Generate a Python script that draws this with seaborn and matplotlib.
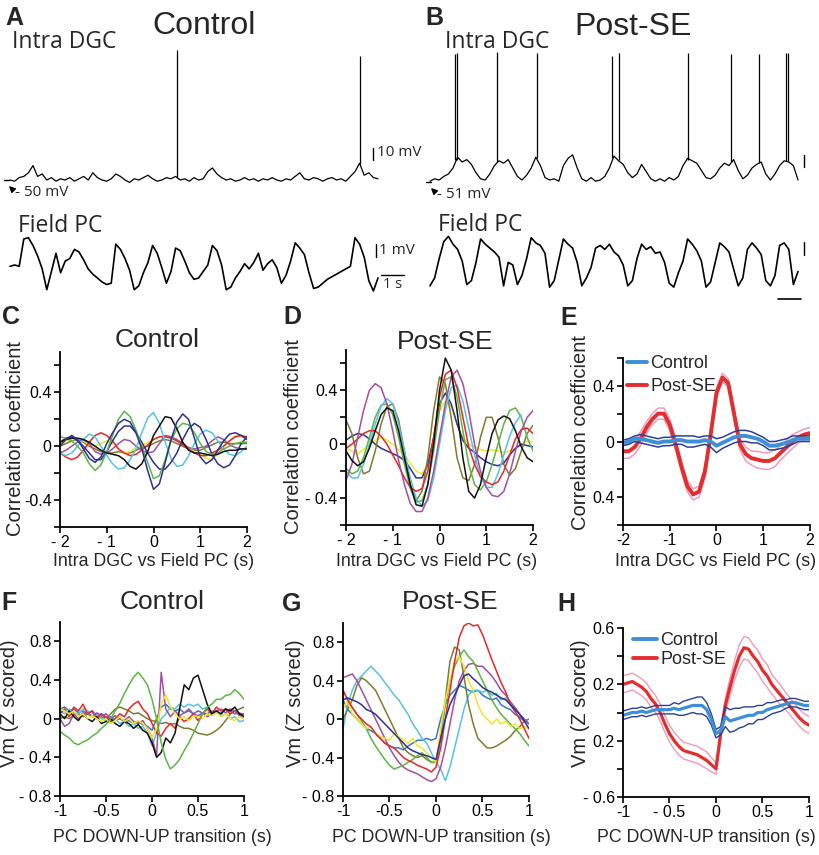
import numpy as np
import matplotlib
matplotlib.use('Agg')
import matplotlib.pyplot as plt
from matplotlib.lines import Line2D
import seaborn as sns

sns.set_style('ticks')
plt.rcParams['font.family'] = ['Liberation Sans', 'DejaVu Sans']

# ---------------- data ----------------
# raw traces (A, B), sampled every 0.2 s, 0-16 s
t_trace = np.linspace(0, 16, 81)
a_intra = [-50, -51, -48, -47, -44, -38, -47, -45, -50, -48,
           -51, -49, -50, -48, -51, -49, -47, -50, -44, -48,
           -50, -51, -49, -45, -47, -50, -52, -49, -50, -48,
           -46, -49, -51, -50, -48, -49, -47, -50, -49, -51,
           -48, -50, -49, -43, -40, -45, -48, -50, -49, -51,
           -50, -48, -50, -49, -51, -49, -50, -48, -50, -51,
           -49, -50, -47, -44, -49, -50, -48, -49, -51, -49,
           -48, -50, -49, -51, -47, -43, -36, -46, -44, -48,
           -49]
a_field = [-0.1, 0.0, -0.1, 2.0, 2.1, 1.5, 0.7, -0.3, -1.9, -0.5,
           0.9, -0.6, 0.3, 0.5, 1.2, 1.0, 0.4, -0.3, -0.7, -1.0,
           -1.3, -1.5, -1.4, 1.6, 1.2, 0.5, -0.4, -1.9, -1.6, -0.6,
           0.2, 1.5, 0.9, -0.2, -1.4, -0.5, 1.3, 1.1, 0.3, -0.6,
           -1.1, -1.0, -0.5, 0.0, 1.5, 1.1, 0.0, -1.9, -1.7, -1.0,
           -0.5, 0.1, -0.3, 0.2, 0.9, -0.4, 0.1, 0.4, -0.2, -1.4,
           -0.8, 0.3, 1.7, 1.3, 0.8, -0.6, -1.8, -1.7, -1.4, -1.1,
           -0.9, -0.7, -0.5, -0.3, -0.1, 2.1, 1.6, 0.6, -1.2, -2.0,
           -1.0]
a_spike_t = [7.26, 15.22]
a_spike_base = [-48, -37]
a_spike_peak = [58, 53]

b_intra = [-51, -49, -50, -47, -45, -40, -31, -35, -33, -37,
           -44, -49, -50, -45, -38, -34, -36, -33, -40, -47,
           -50, -46, -40, -31, -38, -48, -50, -49, -51, -38,
           -32, -29, -40, -49, -51, -48, -51, -50, -47, -40,
           -30, -34, -37, -44, -48, -45, -37, -43, -49, -51,
           -49, -51, -48, -50, -47, -38, -32, -34, -36, -42,
           -48, -49, -46, -40, -36, -38, -33, -42, -49, -46,
           -40, -37, -35, -45, -50, -45, -38, -34, -35, -38,
           -50]
b_field = [-1.6, -1.0, 0.5, 1.8, 2.2, 1.6, 1.2, 0.3, -1.5, -1.2,
           0.2, 2.0, 1.6, 1.3, 1.0, 0.6, -1.6, 0.2, 0.0, -1.5,
           -0.8, 0.5, 2.1, 1.7, 1.5, 0.9, -1.7, -1.2, 0.4, 2.0,
           1.6, 1.3, 0.2, -1.6, -1.0, -0.2, 1.3, 1.5, 1.2, 1.6,
           1.0, 0.7, 0.0, -1.6, -1.2, 0.5, 1.6, 1.2, 1.4, 0.9,
           1.0, 0.2, -1.4, -1.7, -0.6, 0.3, 2.0, 1.6, 1.1, 0.3,
           -1.7, -1.3, 0.2, 1.7, 1.4, 1.0, -0.3, -1.6, -1.0, 1.2,
           1.7, 1.3, 0.8, -1.2, -1.6, -0.8, 1.5, 1.7, 1.2, -1.5,
           -0.5]
b_spike_t = [1.10, 1.17, 2.91, 4.65, 7.91, 8.22, 11.20, 13.10, 14.30, 15.48, 15.55]
b_spike_base = [-33, -33, -35, -32, -32, -33, -33, -35, -36, -34, -34]
b_spike_peak = [55, 56, 57, 56, 53, 56, 56, 55, 55, 56, 56]

# cross-correlations (C, D, E), lag -2..2 s every 0.125 s
lag = np.linspace(-2, 2, 33)
c_black = [0.03, 0.05, 0.06, 0.06, 0.05, 0.03, 0.0, -0.03, -0.05, -0.06, -0.07, -0.1, -0.15, -0.17, -0.13, -0.04,
           0.08, 0.15, 0.22, 0.21, 0.13, 0.03, -0.03, -0.05, -0.05, -0.06, -0.07, -0.06, -0.04, -0.03, -0.03, -0.02, -0.02]
c_green = [0.07, 0.06, 0.04, 0.0, -0.05, -0.13, -0.18, -0.14, -0.04, 0.08, 0.2, 0.26, 0.22, 0.12, 0.0, -0.12,
           -0.24, -0.22, -0.1, 0.04, 0.13, 0.17, 0.16, 0.1, 0.02, -0.04, -0.06, -0.05, -0.02, 0.0, 0.02, 0.03, 0.03]
c_navy1 = [0.0, 0.05, 0.08, 0.05, -0.02, -0.09, -0.12, -0.08, 0.02, 0.1, 0.17, 0.2, 0.18, 0.1, -0.02, -0.18,
           -0.32, -0.28, -0.12, 0.05, 0.18, 0.24, 0.2, 0.06, -0.08, -0.13, -0.1, -0.03, 0.04, 0.09, 0.1, 0.08, 0.05]
c_navy2 = [0.03, 0.06, 0.07, 0.04, 0.0, -0.05, -0.1, -0.1, -0.04, 0.04, 0.11, 0.15, 0.15, 0.1, 0.03, -0.05,
           -0.12, -0.17, -0.17, -0.12, -0.05, 0.05, 0.13, 0.17, 0.14, 0.05, -0.06, -0.13, -0.16, -0.14, -0.07, 0.02, 0.07]
c_cyan = [-0.05, -0.07, -0.05, 0.0, 0.05, 0.09, 0.07, 0.0, -0.07, -0.13, -0.17, -0.16, -0.1, -0.02, 0.1, 0.21,
          0.25, 0.17, 0.03, -0.09, -0.15, -0.14, -0.07, 0.02, 0.09, 0.12, 0.1, 0.04, -0.02, -0.06, -0.07, -0.04, 0.0]
c_red = [-0.05, -0.08, -0.1, -0.08, -0.03, 0.03, 0.08, 0.1, 0.08, 0.04, -0.02, -0.05, -0.07, -0.06, -0.03, 0.01,
         0.05, 0.07, 0.07, 0.06, 0.04, 0.01, -0.02, -0.05, -0.07, -0.07, -0.05, -0.03, 0.0, 0.04, 0.07, 0.08, 0.07]
c_yellow = [0.02, 0.04, 0.05, 0.05, 0.04, 0.01, 0.0, 0.02, 0.04, 0.02, -0.02, -0.05, -0.04, -0.01, 0.0, 0.03,
            0.05, 0.07, 0.08, 0.07, 0.05, 0.02, -0.01, -0.04, -0.06, -0.09, -0.1, -0.06, 0.0, 0.04, 0.08, 0.07, 0.05]
c_purple = [-0.05, -0.03, 0.0, 0.03, 0.05, 0.02, -0.04, -0.06, -0.05, -0.02, 0.02, 0.05, 0.04, 0.0, -0.03, -0.05,
            -0.04, 0.02, 0.08, 0.07, 0.05, 0.02, -0.01, -0.02, -0.01, 0.0, 0.04, 0.07, 0.05, 0.01, -0.01, -0.02, -0.02]
c_olive = [0.0, 0.02, 0.04, 0.05, 0.03, 0.0, -0.02, -0.04, -0.05, -0.05, -0.04, -0.05, -0.05, -0.03, -0.01, 0.0,
           0.02, 0.04, 0.05, 0.04, 0.02, 0.0, -0.02, -0.03, -0.03, -0.01, 0.01, 0.03, 0.03, 0.02, 0.02, 0.02, 0.02]

d_black = [-0.05, -0.12, -0.16, -0.13, -0.03, 0.1, 0.22, 0.27, 0.25, 0.1, -0.1, -0.3, -0.45, -0.46, -0.3, 0.0,
           0.4, 0.64, 0.55, 0.25, -0.1, -0.35, -0.4, -0.3, -0.1, 0.08, 0.18, 0.21, 0.19, 0.1, -0.02, -0.1, -0.13]
d_purple = [-0.27, -0.15, 0.05, 0.25, 0.4, 0.45, 0.42, 0.3, 0.1, -0.12, -0.3, -0.44, -0.5, -0.5, -0.4, -0.2,
            0.05, 0.3, 0.5, 0.55, 0.45, 0.25, 0.0, -0.2, -0.32, -0.38, -0.39, -0.35, -0.22, -0.05, 0.1, 0.2, 0.25]
d_cyan = [-0.2, -0.25, -0.25, -0.15, 0.0, 0.15, 0.28, 0.34, 0.3, 0.15, -0.05, -0.25, -0.4, -0.46, -0.42, -0.25,
          0.0, 0.25, 0.42, 0.44, 0.32, 0.12, -0.08, -0.24, -0.32, -0.32, -0.22, -0.08, 0.06, 0.16, 0.22, np.nan, np.nan]
d_green = [-0.18, -0.22, -0.2, -0.1, 0.05, 0.2, 0.29, 0.3, 0.22, 0.05, -0.15, -0.33, -0.43, -0.42, -0.3, -0.05,
           0.25, 0.48, 0.5, 0.35, 0.1, -0.15, -0.3, -0.34, -0.28, -0.15, 0.0, 0.15, 0.25, 0.27, 0.2, 0.05, -0.05]
d_olive = [0.18, 0.08, -0.1, -0.22, -0.2, -0.05, 0.15, 0.28, 0.3, 0.18, -0.05, -0.3, -0.42, -0.35, -0.1, 0.25,
           0.5, 0.45, 0.2, -0.1, -0.25, -0.27, -0.15, 0.05, 0.2, 0.2, 0.05, -0.15, -0.23, -0.18, -0.05, 0.08, 0.14]
d_red = [-0.03, 0.0, 0.04, 0.08, 0.1, 0.1, 0.06, 0.0, -0.08, -0.16, -0.25, -0.32, -0.35, -0.33, -0.2, 0.05,
         0.35, 0.52, 0.55, 0.42, 0.2, -0.02, -0.15, -0.24, -0.28, -0.3, -0.28, -0.2, -0.08, 0.04, 0.11, 0.12, 0.08]
d_navy = [0.03, 0.06, 0.08, 0.07, 0.04, 0.0, -0.03, -0.05, -0.07, -0.09, -0.12, -0.18, -0.25, -0.25, -0.15, 0.05,
          0.3, 0.38, 0.3, 0.15, 0.03, -0.03, -0.06, -0.1, -0.13, -0.15, -0.16, -0.14, -0.08, -0.03, 0.0, -0.01, -0.02]
d_yellow = [-0.03, -0.05, -0.07, -0.04, 0.0, 0.03, 0.05, 0.03, 0.0, -0.04, -0.08, -0.14, -0.2, -0.22, -0.15, 0.05,
            0.25, 0.32, 0.28, 0.15, 0.05, 0.0, -0.02, -0.04, -0.05, -0.04, -0.05, -0.06, -0.05, -0.03, 0.0, 0.02, 0.02]

e_post_mean = [-0.07, -0.07, -0.04, 0.02, 0.1, 0.16, 0.2, 0.2, 0.12, -0.02, -0.18, -0.32, -0.38, -0.36, -0.22, 0.05,
               0.35, 0.46, 0.42, 0.2, -0.02, -0.09, -0.12, -0.13, -0.14, -0.14, -0.12, -0.08, -0.04, 0.0, 0.03, 0.05, 0.06]
e_post_sem = [0.05, 0.05, 0.05, 0.05, 0.04, 0.04, 0.04, 0.04, 0.04, 0.04, 0.04, 0.04, 0.04, 0.04, 0.04, 0.04,
              0.03, 0.03, 0.03, 0.04, 0.04, 0.05, 0.05, 0.06, 0.06, 0.06, 0.06, 0.05, 0.05, 0.05, 0.04, 0.04, 0.04]
e_ctrl_mean = [-0.01, 0.0, 0.02, 0.02, 0.01, 0.0, -0.01, 0.0, 0.0, 0.01, 0.01, 0.0, 0.0, 0.0, 0.01, 0.0,
               -0.03, -0.01, 0.01, 0.03, 0.04, 0.04, 0.03, 0.02, 0.0, -0.03, -0.03, -0.02, -0.01, 0.01, 0.02, 0.02, 0.02]
e_ctrl_sem = [0.02, 0.02, 0.02, 0.03, 0.03, 0.03, 0.03, 0.03, 0.03, 0.03, 0.03, 0.04, 0.04, 0.03, 0.03, 0.04,
              0.05, 0.04, 0.04, 0.04, 0.04, 0.04, 0.04, 0.03, 0.03, 0.03, 0.03, 0.03, 0.03, 0.03, 0.02, 0.02, 0.02]

# Vm around PC DOWN-UP transitions (F, G, H), -1..1 s every 0.05 s
peri = np.linspace(-1, 1, 41)
f_green = [-0.13, -0.17, -0.2, -0.25, -0.27, -0.24, -0.22, -0.18, -0.15, -0.1,
           -0.06, 0.0, 0.08, 0.16, 0.26, 0.35, 0.43, 0.48, 0.42, 0.35,
           0.2, 0.0, -0.25, -0.42, -0.52, -0.48, -0.42, -0.33, -0.25, -0.15,
           -0.05, 0.05, 0.12, 0.15, 0.2, 0.2, 0.24, 0.25, 0.3, 0.26, 0.2]
f_black = [0.05, 0.0, 0.08, 0.02, -0.02, 0.05, 0.0, -0.03, 0.02, -0.05,
           -0.03, 0.0, -0.05, -0.08, -0.03, -0.05, -0.1, -0.06, -0.12, -0.15,
           -0.25, -0.4, -0.35, -0.2, -0.25, -0.15, 0.1, 0.35, 0.3, 0.42,
           0.45, 0.3, 0.15, 0.05, 0.08, 0.05, 0.1, 0.08, 0.12, 0.05, 0.02]
f_purple = [0.0, -0.08, -0.05, 0.05, 0.0, 0.06, 0.05, 0.02, 0.06, 0.03,
            0.05, 0.0, 0.03, 0.0, -0.02, 0.02, -0.03, -0.05, -0.02, -0.1,
            -0.2, -0.38, 0.48, 0.1, 0.02, 0.08, 0.03, 0.06, 0.1, 0.05,
            0.03, 0.06, 0.02, 0.05, 0.08, 0.1, 0.06, 0.1, 0.08, 0.03, 0.0]
f_red = [0.05, 0.1, 0.02, 0.12, 0.08, 0.15, 0.05, 0.08, 0.0, 0.05,
         0.02, -0.03, 0.0, 0.05, 0.02, 0.1, 0.15, 0.18, 0.1, 0.05,
         -0.05, -0.15, -0.18, -0.1, -0.05, -0.1, 0.02, -0.03, 0.0, 0.05,
         -0.02, 0.05, 0.1, 0.05, 0.12, 0.08, 0.1, 0.05, 0.08, 0.04, 0.05]
f_cyan = [0.08, 0.05, 0.1, 0.06, 0.05, 0.1, 0.08, 0.06, 0.03, 0.0,
          -0.02, -0.05, 0.0, -0.05, -0.03, -0.08, -0.05, -0.1, -0.08, -0.15,
          -0.28, -0.15, 0.0, 0.05, 0.12, 0.1, 0.15, 0.12, 0.15, 0.13,
          0.15, 0.1, 0.12, 0.05, 0.08, 0.03, 0.05, 0.0, 0.02, -0.03, -0.02]
f_yellow = [0.1, 0.08, 0.05, 0.08, 0.02, 0.05, 0.0, 0.03, 0.0, -0.03,
            0.0, -0.05, -0.02, 0.02, -0.03, 0.0, -0.05, -0.02, -0.05, -0.1,
            -0.2, -0.1, 0.15, 0.25, 0.12, 0.05, 0.0, 0.02, -0.02, 0.03,
            0.02, 0.0, 0.05, 0.03, 0.06, 0.02, 0.05, 0.0, -0.02, 0.02, 0.0]
f_olive = [0.0, 0.02, 0.0, 0.03, 0.05, 0.02, 0.05, 0.03, 0.0, 0.02,
           0.0, 0.05, 0.1, 0.12, 0.1, 0.08, 0.05, 0.06, 0.03, 0.0,
           -0.02, -0.03, -0.05, -0.04, -0.06, -0.05, -0.08, -0.1, -0.1, -0.12,
           -0.15, -0.16, -0.17, -0.15, -0.12, -0.08, -0.02, 0.05, 0.08, 0.1, 0.12]
f_blue = [0.1, 0.12, 0.08, 0.1, 0.06, 0.08, 0.05, 0.08, 0.03, 0.05,
          0.0, 0.02, -0.02, 0.0, -0.03, -0.02, -0.05, -0.03, -0.06, -0.08,
          -0.12, 0.0, 0.12, 0.15, 0.1, 0.08, 0.1, 0.06, 0.08, 0.05,
          0.08, 0.06, 0.05, 0.08, 0.06, 0.05, 0.1, 0.08, 0.05, 0.06, 0.04]

g_red = [0.3, 0.2, 0.12, 0.05, 0.0, -0.05, -0.08, -0.15, -0.2, -0.25,
         -0.28, -0.3, -0.35, -0.4, -0.43, -0.45, -0.48, -0.5, -0.52, -0.55,
         -0.5, -0.3, 0.0, 0.3, 0.6, 0.85, 0.97, 1.0, 0.97, 0.98,
         0.88, 0.75, 0.62, 0.5, 0.38, 0.28, 0.15, 0.08, 0.0, -0.1, -0.2]
g_cyan = [-0.1, 0.15, 0.3, 0.4, 0.45, 0.5, 0.55, 0.5, 0.45, 0.38,
          0.32, 0.25, 0.2, 0.12, 0.05, -0.05, -0.12, -0.2, -0.25, -0.35,
          -0.45, -0.52, -0.64, -0.5, -0.3, -0.1, 0.1, 0.25, 0.3, 0.3,
          0.28, 0.3, 0.25, 0.27, 0.2, 0.22, 0.15, 0.12, 0.05, 0.0, -0.05]
g_olive = [0.0, 0.1, 0.2, 0.35, 0.43, 0.4, 0.35, 0.3, 0.2, 0.1,
           0.0, -0.1, -0.2, -0.3, -0.35, -0.38, -0.4, -0.38, -0.42, -0.45,
           -0.45, -0.2, 0.2, 0.6, 0.75, 0.72, 0.45, 0.15, -0.05, -0.2,
           -0.25, -0.3, -0.3, -0.28, -0.25, -0.22, -0.18, -0.12, -0.08, -0.02, 0.0]
g_purple = [0.43, 0.45, 0.47, 0.4, 0.3, 0.2, 0.1, 0.0, -0.1, -0.2,
            -0.3, -0.38, -0.45, -0.5, -0.53, -0.55, -0.57, -0.6, -0.63, -0.65,
            -0.62, -0.5, -0.3, -0.05, 0.2, 0.4, 0.5, 0.57, 0.58, 0.55,
            0.55, 0.5, 0.45, 0.38, 0.3, 0.25, 0.18, 0.12, 0.05, 0.0, -0.05]
g_green = [0.3, 0.2, 0.12, 0.05, -0.02, -0.1, -0.2, -0.28, -0.35, -0.42,
           -0.48, -0.52, -0.5, -0.48, -0.45, -0.42, -0.38, -0.35, -0.4, -0.45,
           -0.45, -0.2, 0.15, 0.4, 0.55, 0.65, 0.72, 0.65, 0.6, 0.5,
           0.4, 0.3, 0.2, 0.12, 0.05, 0.0, -0.05, -0.1, -0.15, -0.22, -0.28]
g_yellow = [0.1, 0.2, 0.05, 0.0, -0.05, -0.1, -0.08, -0.15, -0.18, -0.2,
            -0.22, -0.15, -0.18, -0.22, -0.25, -0.2, -0.28, -0.3, -0.35, -0.4,
            -0.45, -0.1, 0.2, 0.4, 0.6, 0.65, 0.55, 0.4, 0.3, 0.15,
            0.05, 0.0, -0.05, 0.0, -0.05, -0.02, -0.08, -0.05, -0.1, -0.08, -0.1]
g_navy = [0.2, 0.22, 0.2, 0.18, 0.15, 0.1, 0.08, 0.05, 0.0, -0.05,
          -0.1, -0.15, -0.2, -0.25, -0.3, -0.33, -0.35, -0.37, -0.38, -0.4,
          -0.42, -0.2, 0.0, 0.15, 0.25, 0.35, 0.45, 0.47, 0.42, 0.38,
          0.33, 0.3, 0.28, 0.25, 0.22, 0.2, 0.15, 0.1, 0.05, -0.02, -0.1]
g_blue = [0.2, 0.1, 0.05, 0.0, -0.05, -0.1, -0.12, -0.15, -0.2, -0.25,
          -0.28, -0.3, -0.3, -0.32, -0.28, -0.25, -0.22, -0.22, -0.2, -0.22,
          -0.2, 0.0, 0.15, 0.25, 0.3, 0.35, 0.33, 0.3, 0.28, 0.3,
          0.25, 0.22, 0.2, 0.22, 0.15, 0.12, 0.1, 0.05, 0.02, -0.02, -0.05]

h_post_mean = [0.2, 0.21, 0.22, 0.2, 0.18, 0.15, 0.1, 0.06, 0.0, -0.08,
               -0.15, -0.2, -0.24, -0.27, -0.28, -0.29, -0.3, -0.32, -0.34, -0.37,
               -0.4, -0.15, 0.05, 0.18, 0.3, 0.4, 0.46, 0.45, 0.4, 0.36,
               0.3, 0.26, 0.2, 0.16, 0.12, 0.08, 0.04, 0.0, -0.04, -0.07, -0.09]
h_post_sem = [0.06, 0.06, 0.06, 0.06, 0.06, 0.06, 0.06, 0.06, 0.06, 0.06,
              0.06, 0.06, 0.06, 0.06, 0.06, 0.06, 0.06, 0.06, 0.06, 0.05,
              0.04, 0.04, 0.05, 0.06, 0.07, 0.08, 0.08, 0.08, 0.08, 0.08,
              0.08, 0.08, 0.07, 0.07, 0.07, 0.06, 0.06, 0.06, 0.06, 0.06, 0.06]
h_ctrl_mean = [-0.02, -0.01, 0.0, 0.0, 0.01, 0.0, 0.01, 0.02, 0.02, 0.02,
               0.02, 0.03, 0.02, 0.03, 0.04, 0.05, 0.05, 0.05, 0.02, -0.05,
               -0.15, -0.13, -0.03, -0.06, -0.05, -0.04, -0.03, -0.02, -0.02, 0.0,
               0.0, 0.02, 0.03, 0.04, 0.05, 0.06, 0.07, 0.07, 0.06, 0.05, 0.05]
h_ctrl_sem = [0.03, 0.03, 0.03, 0.03, 0.03, 0.03, 0.03, 0.03, 0.03, 0.03,
              0.03, 0.04, 0.04, 0.05, 0.05, 0.05, 0.06, 0.06, 0.05, 0.04,
              0.03, 0.03, 0.07, 0.08, 0.08, 0.07, 0.07, 0.06, 0.06, 0.05,
              0.05, 0.05, 0.04, 0.04, 0.04, 0.03, 0.03, 0.03, 0.03, 0.03, 0.03]

# colours
BLACK, GREEN, NAVY, CYAN = '#111111', '#5cb646', '#2e3192', '#56c3e4'
RED, PURPLE, YELLOW, OLIVE, BLUE = '#e8262a', '#a44fa1', '#f0e62c', '#7d7c2f', '#3b78c4'
CTRL_MEAN, CTRL_SEM = '#3d8fd6', '#2b3f98'
POST_MEAN, POST_SEM = '#e42d2f', '#f29ab8'

# ---------------- layout helpers ----------------
W, H = 820, 855
fig = plt.figure(figsize=(W / 100, H / 100), dpi=100)


def add_box(x0, y0, x1, y1):
    return fig.add_axes([x0 / W, 1 - y1 / H, (x1 - x0) / W, (y1 - y0) / H])


def ftext(x, y, s, **kw):
    kw.setdefault('ha', 'center')
    kw.setdefault('va', 'center')
    fig.text(x / W, 1 - y / H, s, **kw)


def fline(xs, ys, **kw):
    fig.add_artist(Line2D([x / W for x in xs], [1 - y / H for y in ys], color='k', **kw))


def arrow(tip, tail):
    fig.add_artist(matplotlib.patches.FancyArrowPatch(
        (tail[0] / W, 1 - tail[1] / H), (tip[0] / W, 1 - tip[1] / H),
        arrowstyle='-|>', mutation_scale=9, color='k', lw=1))


MYRIAD = ['Open Sans', 'DejaVu Sans']


def style(ax, xlim, ylim, xt, xtl, yt, ytl):
    ax.set_xlim(xlim)
    ax.set_ylim(ylim)
    ax.set_xticks(xt)
    ax.set_xticklabels(xtl)
    ax.set_yticks(yt)
    ax.set_yticklabels(ytl)
    ax.set_xlabel('')
    ax.set_ylabel('')
    sns.despine(ax=ax)
    for s in ['left', 'bottom']:
        ax.spines[s].set_linewidth(1.3)
        ax.spines[s].set_color('k')
    ax.tick_params(direction='out', length=4, width=1.2, labelsize=11.5, pad=2, colors='k')


# ---------------- A / B raw traces ----------------
for (x0, x1, intra, field, sp_t, sp_b, sp_p, scale) in [
        (0, 410, a_intra, a_field, a_spike_t, a_spike_base, a_spike_peak, 'A'),
        (420, 820, b_intra, b_field, b_spike_t, b_spike_base, b_spike_peak, 'B')]:
    t0 = 10
    ax_i = add_box(x0, 45, x1, 195)
    sns.lineplot(x=t_trace, y=intra, ax=ax_i, color='k', lw=0.9, errorbar=None)
    ax_i.vlines(sp_t, sp_b, sp_p, color='k', lw=0.9)
    ax_i.set_xlim(-t0 / 23, (x1 - x0 - t0) / 23)
    ax_i.set_ylim(-62.5, 62.5)
    ax_i.set_axis_off()

    ax_f = add_box(x0, 230, x1, 300)
    sns.lineplot(x=t_trace, y=field, ax=ax_f, color='k', lw=1.2, errorbar=None)
    ax_f.set_xlim(-t0 / 23, (x1 - x0 - t0) / 23)
    ax_f.set_ylim(-2.69, 2.69)
    ax_f.set_axis_off()

    if scale == 'A':
        ax_i.plot([15.78, 15.78], [-33, -23], color='k', lw=1.0)
        ax_f.plot([15.9, 15.9], [0.6, 1.6], color='k', lw=1.0)
        ax_f.plot([16.13, 17.13], [-0.77, -0.77], color='k', lw=1.0)
    else:
        ax_i.plot([16.26, 16.26], [-39, -29], color='k', lw=1.0)
        ax_f.plot([16.26, 16.26], [0.8, 1.8], color='k', lw=1.0)
        ax_f.plot([15.13, 16.13], [-2.6, -2.6], color='k', lw=1.2)

ftext(14, 18, 'A', fontsize=18, fontweight='bold')
ftext(434, 18, 'B', fontsize=18, fontweight='bold')
ftext(204, 26, 'Control', fontsize=23)
ftext(633, 27, 'Post-SE', fontsize=23)
ftext(12, 42, 'Intra DGC', fontsize=16.5, ha='left', family=MYRIAD)
ftext(445, 42, 'Intra DGC', fontsize=16.5, ha='left', family=MYRIAD)
ftext(18, 226, 'Field PC', fontsize=16.5, ha='left', family=MYRIAD)
ftext(438, 225, 'Field PC', fontsize=16.5, ha='left', family=MYRIAD)
ftext(15, 192, '- 50 mV', fontsize=11, ha='left', family=MYRIAD)
ftext(437, 194, '- 51 mV', fontsize=11, ha='left', family=MYRIAD)
ftext(377, 153, '10 mV', fontsize=11, ha='left', family=MYRIAD)
ftext(379, 251, '1 mV', fontsize=11, ha='left', family=MYRIAD)
ftext(393, 285, '1 s', fontsize=10.5, family=MYRIAD)
fline([4, 9], [180, 180], lw=1)
fline([426, 431], [182, 182], lw=1)
arrow((7, 184), (14, 191))
arrow((429, 186), (436, 193))

# ---------------- C / D cross-correlations ----------------
corr_xt = [-2, -1, 0, 1, 2]
corr_yt = [-0.6, -0.4, -0.2, 0, 0.2, 0.4, 0.6]

ax_c = add_box(60, 352, 247, 527)
for vals, col in [(c_olive, OLIVE), (c_yellow, YELLOW), (c_purple, PURPLE), (c_red, RED),
                  (c_cyan, CYAN), (c_navy2, NAVY), (c_green, GREEN), (c_black, BLACK), (c_navy1, NAVY)]:
    sns.lineplot(x=lag, y=vals, ax=ax_c, color=col, lw=1.1, errorbar=None)
style(ax_c, (-2, 2), (-0.6, 0.7), corr_xt, ['- 2', '- 1', '0', '1', '2'],
      corr_yt, ['', '-0.4', '', '0', '', '0.4', ''])

ax_d = add_box(346, 350, 533, 525)
for vals, col in [(d_yellow, YELLOW), (d_navy, NAVY), (d_olive, OLIVE), (d_green, GREEN), (d_cyan, CYAN),
                  (d_red, RED), (d_purple, PURPLE), (d_black, BLACK)]:
    sns.lineplot(x=lag, y=vals, ax=ax_d, color=col, lw=1.1, errorbar=None)
style(ax_d, (-2, 2), (-0.6, 0.7), corr_xt, ['- 2', '- 1', '0', '1', '2'],
      corr_yt, ['', '- 0.4', '', '0', '', '0.4', ''])

# ---------------- E mean +/- SEM ----------------
ax_e = add_box(623, 358, 810, 525)
for mean, sem, cm, cs in [(e_post_mean, e_post_sem, POST_MEAN, POST_SEM),
                          (e_ctrl_mean, e_ctrl_sem, CTRL_MEAN, CTRL_SEM)]:
    m = np.array(mean)
    s = np.array(sem)
    sns.lineplot(x=lag, y=m + s, ax=ax_e, color=cs, lw=1.1, errorbar=None)
    sns.lineplot(x=lag, y=m - s, ax=ax_e, color=cs, lw=1.1, errorbar=None)
    sns.lineplot(x=lag, y=m, ax=ax_e, color=cm, lw=2.8, errorbar=None)
style(ax_e, (-2, 2), (-0.6, 0.6), corr_xt, ['-2', '-1', '0', '1', '2'],
      corr_yt, ['', '0.4', '', '0', '', '0.4', ''])
leg_handles = [Line2D([0], [0], color=CTRL_MEAN, lw=2.8), Line2D([0], [0], color=POST_MEAN, lw=2.8)]
ax_e.legend(leg_handles, ['Control', 'Post-SE'], loc='upper left', bbox_to_anchor=(0.02, 1.015),
            frameon=False, fontsize=13, handlelength=1.1, handletextpad=0.2,
            labelspacing=0.3, borderpad=0, borderaxespad=0)

# ---------------- F / G peri-transition Vm ----------------
peri_xt = [-1, -0.5, 0, 0.5, 1]
vm_yt = [-0.8, -0.4, 0, 0.4, 0.8]

ax_f2 = add_box(60, 622, 244, 796)
for vals, col in [(f_olive, OLIVE), (f_blue, BLUE), (f_cyan, CYAN), (f_red, RED), (f_purple, PURPLE),
                  (f_black, BLACK), (f_yellow, YELLOW), (f_green, GREEN)]:
    sns.lineplot(x=peri, y=vals, ax=ax_f2, color=col, lw=1.1, errorbar=None)
style(ax_f2, (-1, 1), (-0.8, 1.0), peri_xt, ['-1', '-0.5', '0', '0.5', '1'],
      vm_yt, ['- 0.8', '- 0.4', '0', '0.4', '0.8'])

ax_g = add_box(343, 623, 529, 796)
for vals, col in [(g_blue, BLUE), (g_cyan, CYAN), (g_olive, OLIVE), (g_purple, PURPLE), (g_green, GREEN),
                  (g_yellow, YELLOW), (g_red, RED), (g_navy, NAVY)]:
    sns.lineplot(x=peri, y=vals, ax=ax_g, color=col, lw=1.1, errorbar=None)
style(ax_g, (-1, 1), (-0.8, 1.0), peri_xt, ['-1', '-0.5', '0', '0.5', '1'],
      vm_yt, ['- 0.8', '- 0.4', '0', '0.4', '0.8'])

# ---------------- H mean +/- SEM ----------------
ax_h = add_box(623, 628, 809, 797)
for mean, sem, cm, cs in [(h_post_mean, h_post_sem, POST_MEAN, POST_SEM),
                          (h_ctrl_mean, h_ctrl_sem, CTRL_MEAN, CTRL_SEM)]:
    m = np.array(mean)
    s = np.array(sem)
    sns.lineplot(x=peri, y=m + s, ax=ax_h, color=cs, lw=1.0, errorbar=None)
    sns.lineplot(x=peri, y=m - s, ax=ax_h, color=cs, lw=1.0, errorbar=None)
    sns.lineplot(x=peri, y=m, ax=ax_h, color=cm, lw=2.3, errorbar=None)
style(ax_h, (-1, 1), (-0.6, 0.6), peri_xt, ['-1', '- 0.5', '0', '0.5', '1'],
      [-0.6, -0.4, -0.2, 0, 0.2, 0.4, 0.6], ['- 0.6', '', '0.2', '', '0.2', '', '0.6'])
ax_h.legend(leg_handles, ['Control', 'Post-SE'], loc='upper left', bbox_to_anchor=(0.054, 0.975),
            frameon=False, fontsize=13, handlelength=1.3, handletextpad=0.2,
            labelspacing=0.1, borderpad=0, borderaxespad=0)

# ---------------- panel letters, titles, axis labels ----------------
for x, y, s in [(11, 317, 'C'), (292, 317, 'D'), (569, 318, 'E'),
                (9, 603, 'F'), (292, 604, 'G'), (566, 604, 'H')]:
    ftext(x, y, s, fontsize=18, fontweight='bold')
for x, y, s in [(157, 340, 'Control'), (445, 342, 'Post-SE'),
                (162, 602, 'Control'), (450, 602, 'Post-SE')]:
    ftext(x, y, s, fontsize=19)
for x, y in [(16, 438), (294, 437), (581, 433)]:
    ftext(x, y, 'Correlation coefficient', fontsize=14.5, rotation=90)
for x in [154, 437, 716]:
    ftext(x, 562, 'Intra DGC vs Field PC (s)', fontsize=12.8)
for x in [10, 296, 581]:
    ftext(x, 703, 'Vm (Z scored)', fontsize=14.5, rotation=90)
for x in [162, 441, 706]:
    ftext(x, 837, 'PC DOWN-UP transition (s)', fontsize=12.8)

fig.savefig('out.png', dpi=100)
